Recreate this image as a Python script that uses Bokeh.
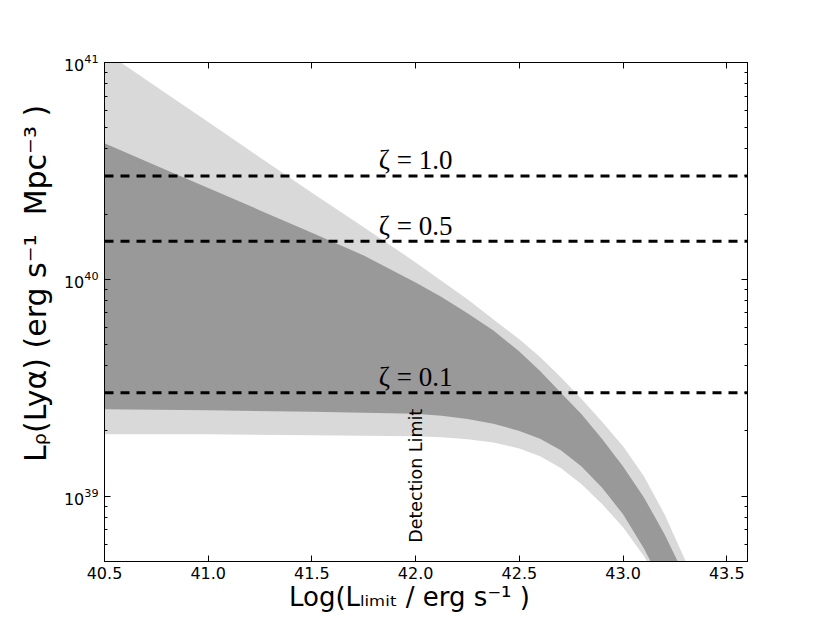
import math
from bokeh.plotting import figure
from bokeh.models import (FixedTicker, LogTickFormatter, LinearAxis, LogAxis, Range1d,
                          PrintfTickFormatter, Span, ColumnDataSource)
from bokeh.core.properties import value
from bokeh.embed import file_html
from bokeh.resources import INLINE

# ---- axis limits -------------------------------------------------------
x_min, x_max = 40.5, 43.6
y_min, y_max = 5e38, 1e41

x_ticks = [40.5, 41.0, 41.5, 42.0, 42.5, 43.0, 43.5]
y_major_ticks = [1e39, 1e40, 1e41]
y_minor_ticks = [m * 10.0 ** e for e in (38, 39, 40) for m in range(2, 10)]

# ---- bands -------------------------------------------------------------
light_upper_x = [40.5, 40.75, 41.0, 41.25, 41.5, 41.75, 42.0, 42.25, 42.5, 42.6, 42.7,
                 42.8, 42.9, 43.0, 43.1, 43.2, 43.3, 43.4]
light_upper_y = [1.124e41, 7.74e40, 5.31e40, 3.65e40, 2.51e40, 1.74e40, 1.197e40, 8.09e39,
                 5.29e39, 4.38e39, 3.54e39, 2.81e39, 2.20e39, 1.70e39, 1.24e39, 8.26e38,
                 5.07e38, 2.99e38]
light_lower_x = [40.5, 41.0, 41.5, 42.0, 42.125, 42.25, 42.375, 42.5, 42.6, 42.7, 42.8,
                 42.9, 43.0, 43.1, 43.2]
light_lower_y = [1.93e39, 1.93e39, 1.91e39, 1.89e39, 1.87e39, 1.83e39, 1.77e39, 1.66e39,
                 1.53e39, 1.35e39, 1.135e39, 9.18e38, 7.19e38, 5.30e38, 3.69e38]

dark_upper_x = [40.5, 40.75, 41.0, 41.25, 41.5, 41.75, 42.0, 42.125, 42.25, 42.375, 42.5,
                42.6, 42.7, 42.8, 42.9, 43.0, 43.1, 43.2, 43.3, 43.4]
dark_upper_y = [4.24e40, 3.34e40, 2.64e40, 2.08e40, 1.64e40, 1.29e40, 9.68e39, 8.30e39,
                6.97e39, 5.81e39, 4.65e39, 3.78e39, 3.00e39, 2.39e39, 1.83e39, 1.37e39,
                9.9e38, 6.68e38, 4.24e38, 2.55e38]
dark_lower_x = [40.5, 41.0, 41.5, 42.0, 42.125, 42.25, 42.375, 42.5, 42.6, 42.7, 42.8,
                42.9, 43.0, 43.1, 43.2]
dark_lower_y = [2.52e39, 2.49e39, 2.45e39, 2.40e39, 2.35e39, 2.27e39, 2.16e39, 2.00e39,
                1.84e39, 1.63e39, 1.37e39, 1.09e39, 8.26e38, 5.75e38, 3.77e38]

# ---- zeta levels -------------------------------------------------------
zeta_labels = ["ζ = 1.0", "ζ = 0.5", "ζ = 0.1"]
zeta_levels = [3.0e40, 1.5e40, 3.0e39]
zeta_label_x = 42.0

detection_x = 42.0
detection_text = "Detection Limit"

LIGHT = "#d9d9d9"
DARK = "#999999"

p = figure(x_range=Range1d(x_min, x_max), y_range=Range1d(y_min, y_max),
           y_axis_type="log", frame_width=643, frame_height=499,
           min_border_left=104, min_border_right=60, min_border_top=62,
           min_border_bottom=54, output_backend="svg", toolbar_location=None,
           background_fill_color="white", border_fill_color="white")

p.grid.visible = False
p.outline_line_color = "black"
p.outline_line_width = 1

# bands
p.patch(light_upper_x + light_lower_x[::-1], light_upper_y + light_lower_y[::-1],
        fill_color=LIGHT, line_color=None)
p.patch(dark_upper_x + dark_lower_x[::-1], dark_upper_y + dark_lower_y[::-1],
        fill_color=DARK, line_color=None)

# dashed zeta lines
for lvl in zeta_levels:
    p.add_layout(Span(location=lvl, dimension="width", line_color="black",
                      line_width=3, line_dash="9 7"))

src = ColumnDataSource(dict(x=[zeta_label_x] * len(zeta_levels),
                            y=[v * 1.18 for v in zeta_levels],
                            t=zeta_labels))
p.text(x="x", y="y", text="t", source=src, text_align="center",
       text_baseline="alphabetic", text_font=value("Liberation Serif"),
       text_font_size="27px", text_color="black")

p.text(x=[detection_x], y=[6.1e38], text=[detection_text], angle=math.pi / 2,
       text_align="left", text_baseline="middle", text_font=value("DejaVu Sans"),
       text_font_size="17.5px", text_color="black")

# axes styling
xt = FixedTicker(ticks=x_ticks, minor_ticks=[])
yt = FixedTicker(ticks=y_major_ticks, minor_ticks=y_minor_ticks)

def style(ax, labels=True):
    ax.axis_line_color = "black"
    ax.major_tick_in = 6
    ax.major_tick_out = 0
    ax.minor_tick_in = 3
    ax.minor_tick_out = 0
    ax.major_tick_line_color = "black"
    ax.minor_tick_line_color = "black"
    ax.major_label_text_font = "DejaVu Sans"
    ax.major_label_text_font_size = "16px"
    ax.major_label_text_color = "black" if labels else None
    ax.axis_label_text_font = "DejaVu Sans"
    ax.axis_label_text_font_style = "normal"
    ax.axis_label_text_color = "black"

NB = "\u00a0"

xa = p.xaxis[0]
xa.ticker = xt
xa.formatter = PrintfTickFormatter(format="%.1f")
style(xa)
xa.major_label_standoff = 5
xa.axis_label = "Log(Lₗᵢₘᵢₜ / erg s⁻¹ )" + NB * 4
xa.axis_label_text_font_size = "26px"
xa.axis_label_standoff = 0

ya = p.yaxis[0]
ya.ticker = yt
ya.formatter = LogTickFormatter()
style(ya)
ya.major_label_standoff = 6
ya.axis_label = NB * 6 + "Lᵨ(Lyα) (erg s⁻¹" + NB + " Mpc⁻³ )"
ya.axis_label_text_font_size = "30px"
ya.axis_label_standoff = 8

top = LinearAxis(ticker=xt, formatter=PrintfTickFormatter(format="%.1f"))
style(top, labels=False)
p.add_layout(top, "above")
right = LogAxis(ticker=yt, formatter=LogTickFormatter())
style(right, labels=False)
p.add_layout(right, "right")

open("out.html", "w").write(file_html(p, INLINE))
